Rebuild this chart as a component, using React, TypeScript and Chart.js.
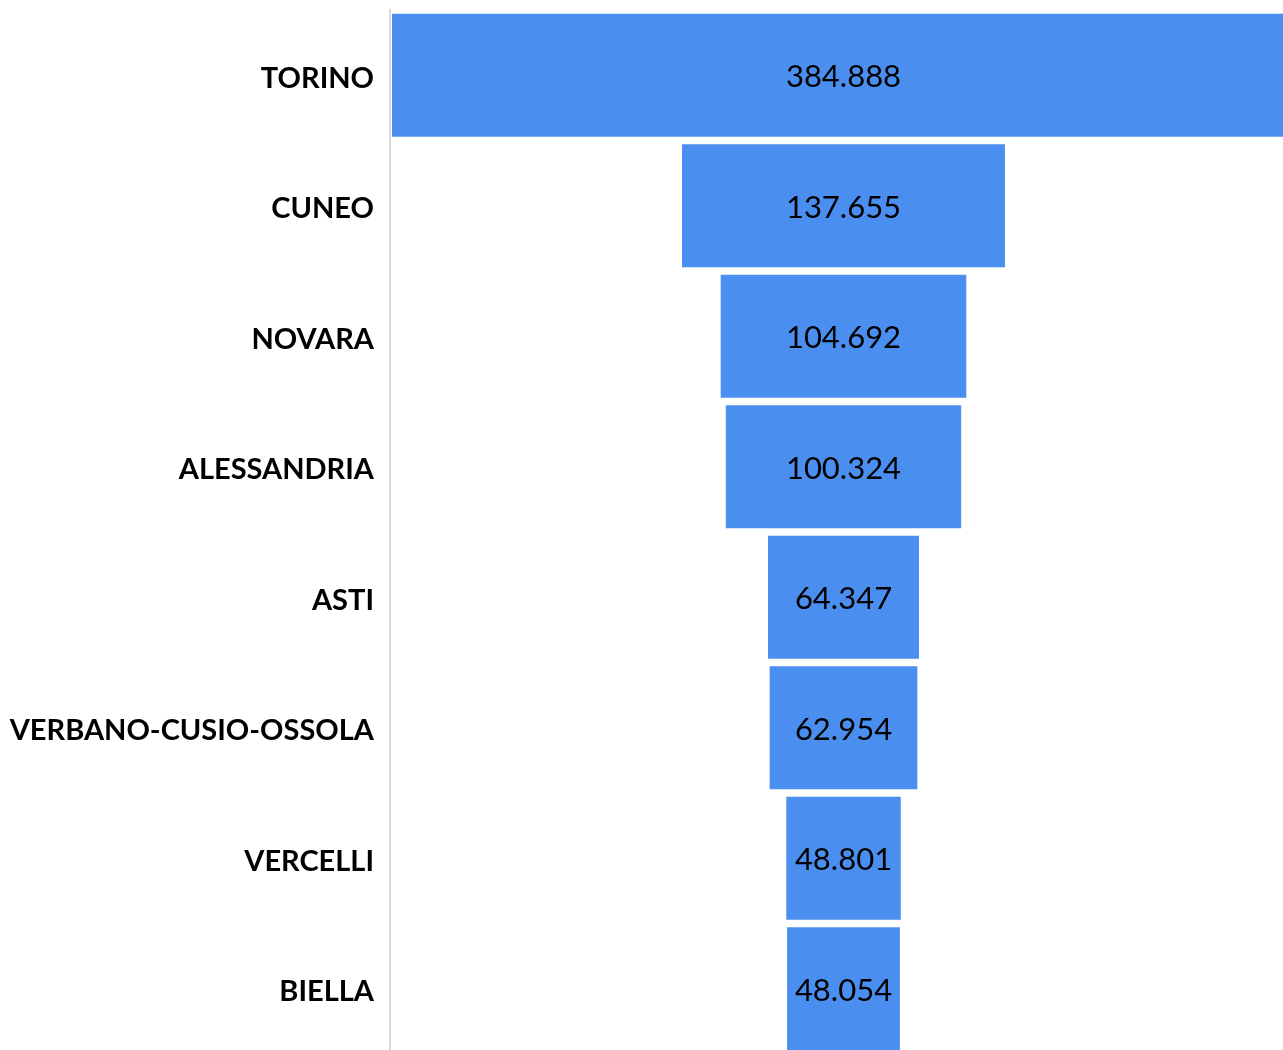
import React, { useEffect, useRef } from "react";
import { Chart, registerables } from "chart.js";

Chart.register(...registerables);

const categories = [
  "TORINO",
  "CUNEO",
  "NOVARA",
  "ALESSANDRIA",
  "ASTI",
  "VERBANO-CUSIO-OSSOLA",
  "VERCELLI",
  "BIELLA",
];
const values = [384888, 137655, 104692, 100324, 64347, 62954, 48801, 48054];

const formatIt = (v: number) =>
  String(Math.round(v)).replace(/\B(?=(\d{3})+(?!\d))/g, ".");

const valueLabelPlugin = {
  id: "valueLabels",
  afterDatasetsDraw(chart: any) {
    const ctx = chart.ctx;
    const meta = chart.getDatasetMeta(0);
    const xs = chart.scales.x;
    const cx = xs.getPixelForValue(0);
    ctx.save();
    ctx.font = "normal 31px Lato";
    ctx.fillStyle = "#000000";
    ctx.textAlign = "center";
    ctx.textBaseline = "middle";
    meta.data.forEach((el: any, i: number) => {
      ctx.fillText(formatIt(values[i]), cx, el.y + 2);
    });
    ctx.restore();
  },
};

export default function App() {
  const ref = useRef<HTMLCanvasElement | null>(null);
  useEffect(() => {
    if (!ref.current) return;
    const maxVal = Math.max(...values);
    const half = (maxVal / 2) * 1.0045;
    const chart = new Chart(ref.current, {
      type: "bar",
      data: {
        labels: categories,
        datasets: [
          {
            data: values.map((v) => [-v / 2, v / 2]) as any,
            backgroundColor: "#4a8ef0",
            borderWidth: 0,
            barPercentage: 0.943,
            categoryPercentage: 1,
          },
        ],
      },
      options: {
        indexAxis: "y",
        responsive: false,
        animation: false,
        layout: { padding: { top: 10, bottom: 0, left: 0, right: 0 } },
        plugins: {
          legend: { display: false },
          tooltip: { enabled: false },
        },
        scales: {
          x: { display: false, min: -half, max: half },
          y: {
            grid: { display: false, drawTicks: false },
            border: { display: true, color: "#d9d9d9", width: 2 },
            ticks: {
              color: "#000000",
              font: { family: "Lato", weight: "bold", size: 29 },
              padding: 16,
              labelOffset: 3,
              autoSkip: false,
            },
            afterFit: (s: any) => {
              s.width = 390;
              s.paddingTop = 0;
              s.paddingBottom = 0;
            },
          },
        },
      },
      plugins: [valueLabelPlugin],
    });
    return () => chart.destroy();
  }, []);
  return (
    <div
      style={{
        position: "fixed",
        left: 0,
        top: 0,
        width: 1283,
        height: 1050,
        overflow: "hidden",
        background: "#ffffff",
      }}
    >
      <canvas ref={ref} width={1297} height={1054} style={{ display: "block" }} />
    </div>
  );
}
